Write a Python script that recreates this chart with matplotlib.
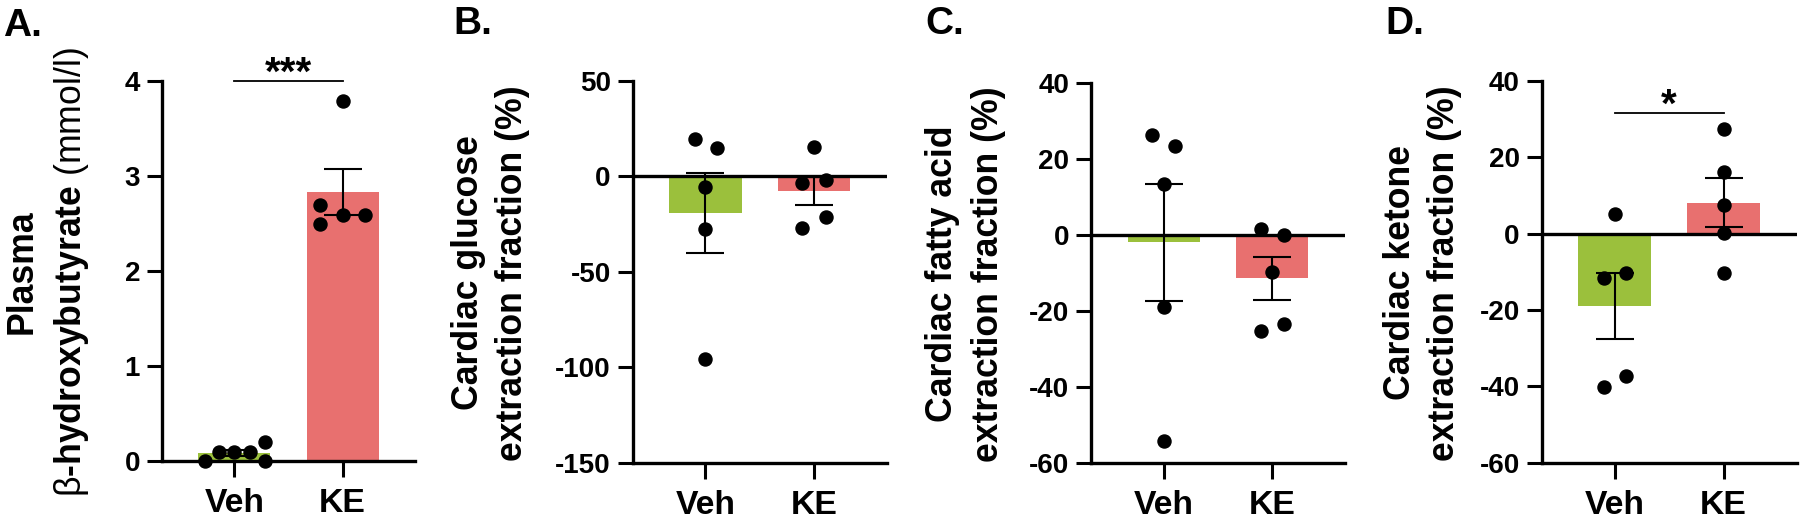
import numpy as np
import matplotlib
matplotlib.use("Agg")
import matplotlib.pyplot as plt

plt.rcParams['font.family'] = ['Liberation Sans', 'DejaVu Sans']
plt.rcParams['mathtext.fontset'] = 'custom'
plt.rcParams['mathtext.rm'] = 'Liberation Sans'
plt.rcParams['mathtext.bf'] = 'Liberation Sans:bold'
plt.rcParams['axes.unicode_minus'] = False

# ---------------- data ----------------
groups = ["Veh", "KE"]

# A. Plasma beta-hydroxybutyrate (mmol/l)
a_veh = [0.0, 0.1, 0.1, 0.1, 0.2, 0.0]
a_ke = [2.69, 2.49, 3.79, 2.59, 2.59]
# B. Cardiac glucose extraction fraction (%)
b_veh = [19.4, 14.7, -5.7, -27.7, -95.7]
b_ke = [15.2, -3.6, -26.9, -1.9, -21.1]
# C. Cardiac fatty acid extraction fraction (%)
c_veh = [26.3, 23.4, 13.3, -18.9, -54.2]
c_ke = [1.4, -25.3, -0.1, -23.6, -9.7]
# D. Cardiac ketone extraction fraction (%)
d_veh = [5.1, -11.7, -40.1, -10.4, -37.3]
d_ke = [27.3, 16.1, 7.5, 0.1, -10.4]

# horizontal scatter offsets of the dots (layout)
a_veh_jit = [-0.275, -0.14, 0.0, 0.147, 0.284, 0.284]
a_ke_jit = [-0.21, -0.21, 0.0, 0.0, 0.21]
b_veh_jit = [-0.10, 0.107, 0.0, 0.0, 0.0]
b_ke_jit = [0.0, -0.107, -0.107, 0.107, 0.107]
c_veh_jit = [-0.105, 0.105, 0.0, 0.0, 0.0]
c_ke_jit = [-0.105, -0.105, 0.107, 0.107, 0.0]
d_veh_jit = [0.0, -0.10, -0.10, 0.107, 0.107]
d_ke_jit = [0.0, 0.0, 0.0, 0.0, 0.0]

ylims = [(0, 4), (-150, 50), (-60, 40), (-60, 40)]
yticks = [[0, 1, 2, 3, 4], [-150, -100, -50, 0, 50],
          [-60, -40, -20, 0, 20, 40], [-60, -40, -20, 0, 20, 40]]
panel_letters = ["A.", "B.", "C.", "D."]
ylabel_line1 = ["Plasma", "Cardiac glucose", "Cardiac fatty acid", "Cardiac ketone"]
ylabel_line2 = ["$\\mathrm{β}$-hydroxybutyrate $\\mathrm{(mmol/l)}$",
                "extraction fraction (%)", "extraction fraction (%)",
                "extraction fraction (%)"]
sig_text = ["***", None, None, "*"]
sig_y = [4.0, None, None, 31.5]

# ---------------- style / layout ----------------
W, H = 1800, 522
green = "#9BC03C"
red = "#E8706F"
spine_lw = 2.4

axes_px = [  # left, top, right, bottom in pixels
    (162, 81, 415, 461),
    (632.7, 81, 886.7, 462.7),
    (1091, 82.7, 1345, 462.7),
    (1541.7, 81, 1796.7, 462.7),
]
ylab_x = [(22, 72), (468, 513), (942, 988), (1400, 1445)]
letter_xy = [(3, 8), (453, 6), (925, 6), (1385, 6)]

fig = plt.figure(figsize=(W / 100, H / 100), dpi=100)

data = [(a_veh, a_ke, a_veh_jit, a_ke_jit),
        (b_veh, b_ke, b_veh_jit, b_ke_jit),
        (c_veh, c_ke, c_veh_jit, c_ke_jit),
        (d_veh, d_ke, d_veh_jit, d_ke_jit)]

for i, (veh, ke, vj, kj) in enumerate(data):
    l, t, r, b = axes_px[i]
    ax = fig.add_axes([l / W, 1 - b / H, (r - l) / W, (b - t) / H])
    ax.set_xlim(-0.67, 1.67)
    ax.set_ylim(*ylims[i])
    vals = [np.array(veh), np.array(ke)]
    means = [v.mean() for v in vals]
    sems = [v.std(ddof=1) / np.sqrt(len(v)) for v in vals]
    xs = np.arange(2)
    ax.bar(xs, means, width=0.665, color=[green, red], zorder=1)
    ax.errorbar(xs, means, yerr=sems, fmt='none', ecolor='black',
                elinewidth=1.5, capsize=13.5, capthick=1.5, zorder=3)
    for k, (v, j) in enumerate([(veh, vj), (ke, kj)]):
        ax.plot(k + np.array(j), v, 'o', color='black', markersize=9.4,
                zorder=4, clip_on=False)
    if ylims[i][0] < 0:
        ax.axhline(0, color='black', lw=spine_lw, zorder=2)
    for s in ['top', 'right']:
        ax.spines[s].set_visible(False)
    for s in ['left', 'bottom']:
        ax.spines[s].set_linewidth(spine_lw)
    ax.set_yticks(yticks[i])
    ax.set_xticks(xs)
    ax.set_xticklabels(groups)
    ax.tick_params(axis='y', length=10.8, width=2.2, pad=5, labelsize=20)
    ax.tick_params(axis='x', length=11.5, width=2.2, pad=8, labelsize=24.3)
    for lab in ax.get_xticklabels() + ax.get_yticklabels():
        lab.set_fontweight('bold')
    if sig_text[i]:
        ax.plot([0, 1], [sig_y[i], sig_y[i]], color='black', lw=1.3,
                clip_on=False, zorder=5)
        ax.annotate(sig_text[i], xy=(0.5, sig_y[i]), xytext=(0, -2.5),
                    textcoords='offset points', ha='center', va='baseline',
                    fontsize=29, fontweight='bold', annotation_clip=False)

    yc = 1 - ((t + b) / 2 + 1) / H
    fig.text(ylab_x[i][0] / W, yc, ylabel_line1[i], rotation=90,
             ha='center', va='center', fontsize=25.7, fontweight='bold')
    fig.text(ylab_x[i][1] / W, yc, ylabel_line2[i], rotation=90,
             ha='center', va='center', fontsize=25.7, fontweight='bold')
    fig.text(letter_xy[i][0] / W, 1 - letter_xy[i][1] / H, panel_letters[i],
             ha='left', va='top', fontsize=28, fontweight='bold')

fig.savefig("out.png", dpi=100)
